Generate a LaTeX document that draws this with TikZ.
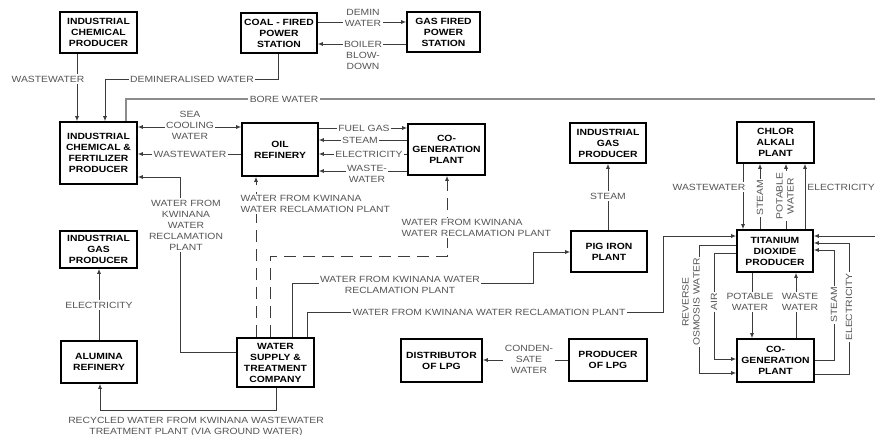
\documentclass[tikz,border=0pt]{standalone}
\usepackage{fontspec}
\setmainfont{Liberation Sans}[FakeStretch=1.15]
\usetikzlibrary{arrows.meta,calc}
\definecolor{linecol}{RGB}{60,60,60}
\definecolor{borecol}{RGB}{140,140,140}
\definecolor{labelcol}{RGB}{85,85,85}
\begin{document}
\begin{tikzpicture}[x=1pt,y=-1pt,
  box/.style={draw=black,line width=1.6pt,inner sep=0pt,align=center,
    font=\bfseries\fontsize{9}{11}\selectfont},
  conn/.style={draw=linecol,line width=0.9pt},
  arr/.style={-{Latex[length=5pt,width=4pt]}},
  dsh/.style={dash pattern=on 12pt off 7pt},
  lbl/.style={font=\fontsize{9}{11}\selectfont,text=labelcol,fill=white,
    inner sep=1.5pt,align=center},
  vlbl/.style={lbl,rotate=90}]
\useasboundingbox (0,0) rectangle (875,435);

% ---------- plants ----------
\node[box,minimum width=77pt,minimum height=41pt] (icp)   at (98.5,32.5) {INDUSTRIAL\\CHEMICAL\\PRODUCER};
\node[box,minimum width=76pt,minimum height=40pt] (coal)  at (279,33)    {COAL - FIRED\\POWER\\STATION};
\node[box,minimum width=73pt,minimum height=40pt] (gas)   at (443.5,32)  {GAS FIRED\\POWER\\STATION};
\node[box,minimum width=77pt,minimum height=62pt] (icf)   at (98.5,153)  {INDUSTRIAL\\CHEMICAL \&\\FERTILIZER\\PRODUCER};
\node[box,minimum width=76pt,minimum height=53pt] (oil)   at (280,149.5) {OIL\\REFINERY};
\node[box,minimum width=77pt,minimum height=51pt] (cga)   at (446.5,149.5) {CO-\\GENERATION\\PLANT};
\node[box,minimum width=76pt,minimum height=40pt] (igpb)  at (608,143)   {INDUSTRIAL\\GAS\\PRODUCER};
\node[box,minimum width=77pt,minimum height=41pt] (chlor) at (775.5,142.5) {CHLOR\\ALKALI\\PLANT};
\node[box,minimum width=76pt,minimum height=41pt] (pig)   at (609,251.5) {PIG IRON\\PLANT};
\node[box,minimum width=76pt,minimum height=42pt] (tio)   at (775,251)   {TITANIUM\\DIOXIDE\\PRODUCER};
\node[box,minimum width=77pt,minimum height=43pt] (cgb)   at (775.5,360.5) {CO-\\GENERATION\\PLANT};
\node[box,minimum width=77pt,minimum height=37pt] (igpa)  at (98.5,249.5) {INDUSTRIAL\\GAS\\PRODUCER};
\node[box,minimum width=76pt,minimum height=42pt] (alum)  at (99,362)    {ALUMINA\\REFINERY};
\node[box,minimum width=77pt,minimum height=49pt] (wst)   at (275.5,362.5) {WATER\\SUPPLY \&\\TREATMENT\\COMPANY};
\node[box,minimum width=81pt,minimum height=43pt] (dist)  at (441.5,360.5) {DISTRIBUTOR\\OF LPG};
\node[box,minimum width=78pt,minimum height=42pt] (plpg)  at (608,360)   {PRODUCER\\OF LPG};

\coordinate (boresrc) at (875,99);
\coordinate (tiosrc)  at (875,236);

% ---------- flows ----------
\draw[conn,arr] (77,0 |- icp.south) -- (77,0 |- icf.north);
\draw[conn,arr] (278,0 |- coal.south) |- (105,79) -- (105,0 |- icf.north);
\draw[conn,draw=borecol,line width=1.3pt] (boresrc) -| (126,0 |- icf.north);
\draw[conn,{Latex[length=5pt,width=4pt]}-{Latex[length=5pt,width=4pt]}] (icf.east |- 0,127) -- (oil.west |- 0,127);
\draw[conn,arr] (oil.west |- 0,154) -- (icf.east |- 0,154);
\draw[conn,arr] (coal.east |- 0,22) -- (gas.west |- 0,22);
\draw[conn,arr] (gas.west |- 0,44) -- (coal.east |- 0,44);
\draw[conn,arr] (oil.east |- 0,128) -- (cga.west |- 0,128);
\draw[conn,arr] (cga.west |- 0,140) -- (oil.east |- 0,140);
\draw[conn,arr] (cga.west |- 0,154) -- (oil.east |- 0,154);
\draw[conn,arr] (cga.west |- 0,171) -- (oil.east |- 0,171);
\draw[conn,dsh,arr] (256,0 |- wst.north) -- (256,0 |- oil.south);
\draw[conn,dsh,arr] (270,0 |- wst.north) |- (447,256) -- (447,0 |- cga.south);
\draw[conn,arr] (292,0 |- wst.north) |- (533,283) |- (pig.west |- 0,252);
\draw[conn,arr] (307,0 |- wst.north) |- (663,312) |- (tio.west |- 0,236);
\draw[conn,arr] (wst.west |- 0,352) -| (180,177) -- (icf.east |- 0,177);
\draw[conn,arr] (99,0 |- alum.north) -- (99,0 |- igpa.south);
\draw[conn,arr] (276,0 |- wst.south) |- (100,410) -- (100,0 |- alum.south);
\draw[conn,arr] (608,0 |- pig.north) -- (608,0 |- igpb.south);
\draw[conn,arr] (plpg.west |- 0,360) -- (dist.east |- 0,360);
\draw[conn,arr] (743,0 |- chlor.south) -- (743,0 |- tio.north);
\draw[conn,arr] (760,0 |- tio.north) -- (760,0 |- chlor.south);
\draw[conn,arr] (786,0 |- tio.north) -- (786,0 |- chlor.south);
\draw[conn,arr] (805,0 |- tio.north) -- (805,0 |- chlor.south);
\draw[conn,arr] (tiosrc) -- (tio.east |- 0,236);
\draw[conn,arr] (cgb.east |- 0,360) -| (834,250) -- (tio.east |- 0,250);
\draw[conn,arr] (cgb.east |- 0,374) -| (849,243) -- (tio.east |- 0,243);
\draw[conn,arr] (tio.west |- 0,245) -| (699,373) -- (cgb.west |- 0,373);
\draw[conn,arr] (tio.west |- 0,253) -| (714,359) -- (cgb.west |- 0,359);
\draw[conn,arr] (752,0 |- tio.south) -- (752,0 |- cgb.north);
\draw[conn,arr] (796,0 |- cgb.north) -- (796,0 |- tio.south);

% ---------- flow labels ----------
\node[lbl] (lwwa)   at (48,79)    {WASTEWATER};
\node[lbl] (ldemin) at (192,79)   {DEMINERALISED WATER};
\node[lbl] (lbore)  at (284,99)   {BORE WATER};
\node[lbl] (lsea)   at (190,125)  {SEA\\COOLING\\WATER};
\node[lbl] (lwwb)   at (190,154)  {WASTEWATER};
\node[lbl] (ldw)    at (363,17.5) {DEMIN\\WATER};
\node[lbl] (lbbd)   at (363,55)   {BOILER\\BLOW-\\DOWN};
\node[lbl] (lfuel)  at (364,128)  {FUEL GAS};
\node[lbl] (lsta)   at (360,140)  {STEAM};
\node[lbl] (lela)   at (369,154)  {ELECTRICITY};
\node[lbl] (lwwc)   at (367,174)  {WASTE-\\WATER};
\node[lbl,anchor=west,align=left] (lkwa) at (239,204) {WATER FROM KWINANA\\WATER RECLAMATION PLANT};
\node[lbl,anchor=west,align=left] (lkwb) at (400,228) {WATER FROM KWINANA\\WATER RECLAMATION PLANT};
\node[lbl] (lkwc)   at (400,285)  {WATER FROM KWINANA WATER\\RECLAMATION PLANT};
\node[lbl] (lkwd)   at (489,312)  {WATER FROM KWINANA WATER RECLAMATION PLANT};
\node[lbl] (lkwe)   at (186,225)  {WATER FROM\\KWINANA\\WATER\\RECLAMATION\\PLANT};
\node[lbl] (lelb)   at (99,305)   {ELECTRICITY};
\node[lbl] (lrec)   at (196,427)  {RECYCLED WATER FROM KWINANA WASTEWATER\\TREATMENT PLANT (VIA GROUND WATER)};
\node[lbl] (lstb)   at (608,196)  {STEAM};
\node[lbl] (lcond)  at (529,359)  {CONDEN-\\SATE\\WATER};
\node[lbl] (lwwd)   at (709,187)  {WASTEWATER};
\node[vlbl] (lstc)  at (760,198)  {STEAM};
\node[vlbl] (lpta)  at (785,196)  {POTABLE\\WATER};
\node[lbl] (lelc)   at (841,187)  {ELECTRICITY};
\node[vlbl] (lstd)  at (834,305)  {STEAM};
\node[vlbl] (leld)  at (849,307)  {ELECTRICITY};
\node[vlbl] (lro)   at (691,302)  {REVERSE\\OSMOSIS WATER};
\node[vlbl] (lair)  at (714,302)  {AIR};
\node[lbl] (lptb)   at (750,302)  {POTABLE\\WATER};
\node[lbl] (lwwe)   at (800,302)  {WASTE\\WATER};
\end{tikzpicture}
\end{document}
